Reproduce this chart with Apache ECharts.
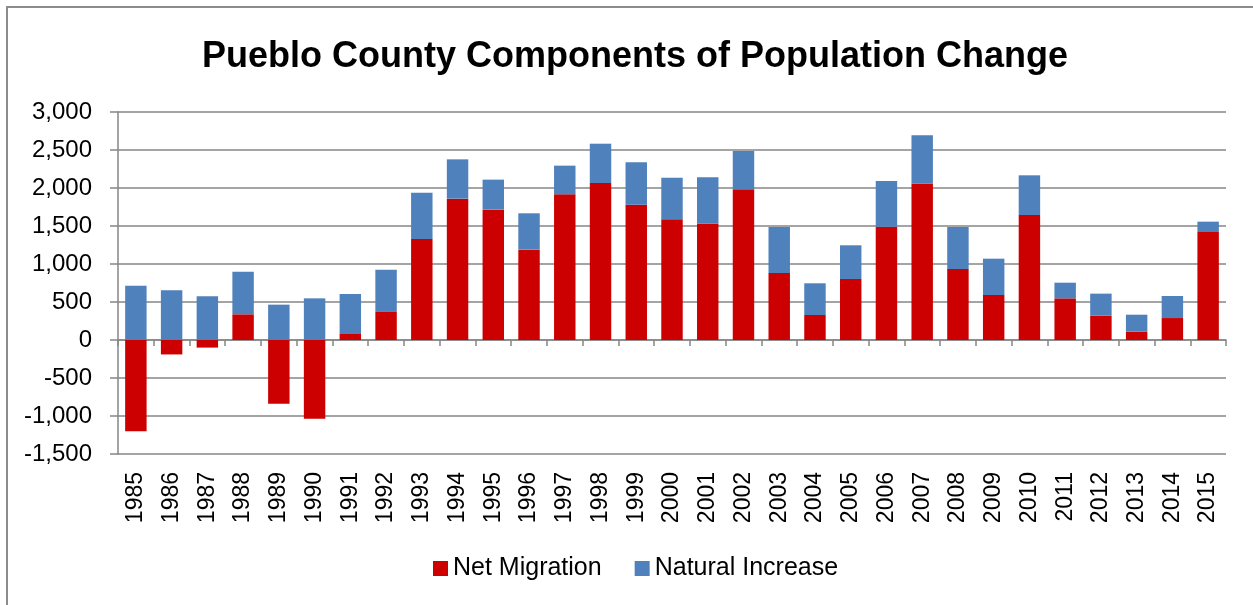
<!DOCTYPE html>
<html>
<head>
<meta charset="utf-8">
<style>html,body{margin:0;padding:0;background:#fff;}#c{width:1253px;height:605px;}</style>
<script src="https://cdn.jsdelivr.net/npm/echarts@6/dist/echarts.min.js"></script>
</head>
<body>
<div id="c"></div>
<script>
var years = ['1985','1986','1987','1988','1989','1990','1991','1992','1993','1994','1995','1996','1997','1998','1999','2000','2001','2002','2003','2004','2005','2006','2007','2008','2009','2010','2011','2012','2013','2014','2015'];
var netMigration = [-1200,-190,-100,338,-840,-1035,79,377,1329,1860,1715,1189,1917,2066,1781,1588,1531,1982,882,329,803,1491,2057,934,592,1645,548,320,110,289,1421];
var naturalIncrease = [715,655,575,561,465,548,526,548,610,517,395,478,377,517,557,548,609,505,605,417,443,601,636,553,478,522,206,290,223,290,136];
var yTicks = {min:-1500, max:3000, interval:500};

var FONT = "'Liberation Sans', Arial, sans-serif";
var chart = echarts.init(document.getElementById('c'));
chart.setOption({
  animation: false,
  backgroundColor: '#fff',
  textStyle: {fontFamily: FONT, color: '#000'},
  title: {
    text: 'Pueblo County Components of Population Change',
    left: 630, top: 34, textAlign: 'center',
    textStyle: {fontFamily: FONT, fontWeight: 'bold', fontSize: 36, color: '#000'}
  },
  graphic: [{
    type: 'rect', silent: true,
    shape: {x: 7, y: 7, width: 1400, height: 800},
    style: {fill: 'none', stroke: '#8c8c8c', lineWidth: 2}
  }],
  legend: {
    data: ['Net Migration', 'Natural Increase'],
    left: 433, top: 556, padding: 0,
    itemWidth: 15, itemHeight: 15, itemGap: 33,
    icon: 'rect',
    textStyle: {fontFamily: FONT, fontSize: 25, color: '#000'}
  },
  grid: {left: 118, right: 27, top: 112, bottom: 151, containLabel: false},
  xAxis: [{
    type: 'category', data: years,
    axisLine: {onZero: true, lineStyle: {color: '#868686', width: 1.5}},
    axisTick: {show: true, length: 6, lineStyle: {color: '#868686', width: 1.5}},
    axisLabel: {show: false}
  }, {
    type: 'category', data: years, position: 'bottom',
    axisLine: {show: false, onZero: false},
    axisTick: {show: false},
    axisLabel: {rotate: 90, margin: 18, fontSize: 23, color: '#000', fontFamily: FONT}
  }],
  yAxis: {
    type: 'value', min: yTicks.min, max: yTicks.max, interval: yTicks.interval,
    axisLine: {show: true, lineStyle: {color: '#868686', width: 1.5}},
    axisTick: {show: true, length: 8, lineStyle: {color: '#868686', width: 1.5}},
    splitLine: {lineStyle: {color: '#868686', width: 1.5}},
    axisLabel: {
      fontSize: 24, color: '#000', margin: 26, fontFamily: FONT,
      formatter: function (v) { return v.toLocaleString('en-US'); }
    }
  },
  series: [{
    name: 'Net Migration', type: 'bar', stack: 'total', xAxisIndex: 0,
    data: netMigration, barCategoryGap: '40%',
    itemStyle: {color: '#cc0000'}
  }, {
    name: 'Natural Increase', type: 'bar', stack: 'total', xAxisIndex: 0,
    data: naturalIncrease, barCategoryGap: '40%',
    itemStyle: {color: '#4f81bd'}
  }]
});
</script>
</body>
</html>
